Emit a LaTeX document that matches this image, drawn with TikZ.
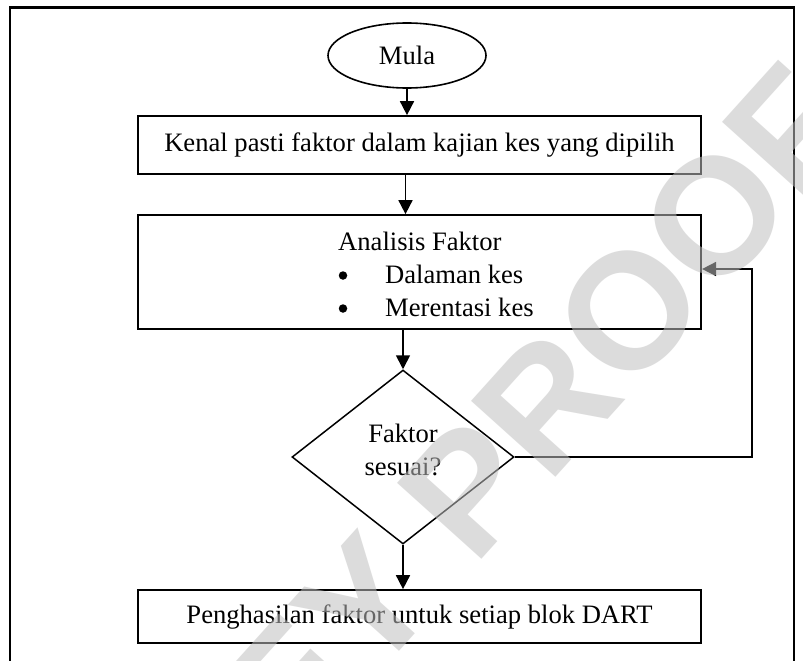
\documentclass[tikz,border=0pt]{standalone}
\usepackage{fontspec}
\setmainfont{Liberation Serif}
\newfontfamily\wmfont{Liberation Sans}
\usetikzlibrary{shapes.geometric,arrows.meta}
\begin{document}
\begin{tikzpicture}[x=1pt,y=-1pt,
  every node/.style={font=\fontsize{26.6}{33}\selectfont},
  box/.style={draw,line width=1.7pt,rectangle,inner sep=0pt,minimum width=563.5pt},
  arr/.style={line width=1.7pt,-{Triangle[length=14pt,width=14pt]}},
  decision/.style={draw,line width=1.5pt,diamond,inner sep=0pt,minimum width=222pt,minimum height=174pt},
  startstop/.style={draw,line width=1.6pt,ellipse,inner sep=0pt,minimum width=158pt,minimum height=65pt},
  bullet/.style={circle,fill,inner sep=0pt,minimum size=8.5pt},
  wm/.style={font=\wmfont\bfseries\fontsize{165}{165}\selectfont,text=black!25,opacity=0.54,inner sep=0pt}
]
\useasboundingbox (0,0) rectangle (803,661);
\fill[white] (0,0) rectangle (803,661);
% outer frame
\draw[line width=2.4pt] (10,661) -- (10,7.5) -- (794,7.5) -- (794,661);

\node[startstop] (mula) at (407,55.5) {Mula};
\node[box,minimum height=58pt] (box1) at (419.5,145) {Kenal pasti faktor dalam kajian kes yang dipilih};
\node[box,minimum height=114pt] (box2) at (419.5,272) {};
\node[anchor=base west,inner sep=0pt] (t1) at (338,250) {Analisis Faktor};
\node[bullet] (b1) at (343,275.5) {};
\node[anchor=base west,inner sep=0pt] (t2) at (385,283) {Dalaman kes};
\node[bullet] (b2) at (343,308.5) {};
\node[anchor=base west,inner sep=0pt] (t3) at (385,316) {Merentasi kes};
\node[decision] (dec) at (403,457) {};
\node[align=center,inner sep=0pt] (dtext) at (403,450) {Faktor\\sesuai?};
\node[box,minimum height=53pt] (box3) at (419.5,616.5) {Penghasilan faktor untuk setiap blok DART};

\coordinate (fb) at (752,269);

\draw[arr] (mula.south) -- (mula.south |- box1.north);
\draw[arr] ([xshift=-14pt]box1.south) -- ([xshift=-14pt]box1.south |- box2.north);
\draw[arr] (dec.north |- box2.south) -- (dec.north);
\draw[arr] (dec.south) -- (dec.south |- box3.north);
\draw[arr] (dec.east) -| (fb) -- (fb -| box2.east);

% watermark
\begin{scope}
\clip (0,0) rectangle (803,661);
\node[wm,rotate=48] (wmark) at (540,410) {EY PROOF};
\end{scope}
\end{tikzpicture}
\end{document}
